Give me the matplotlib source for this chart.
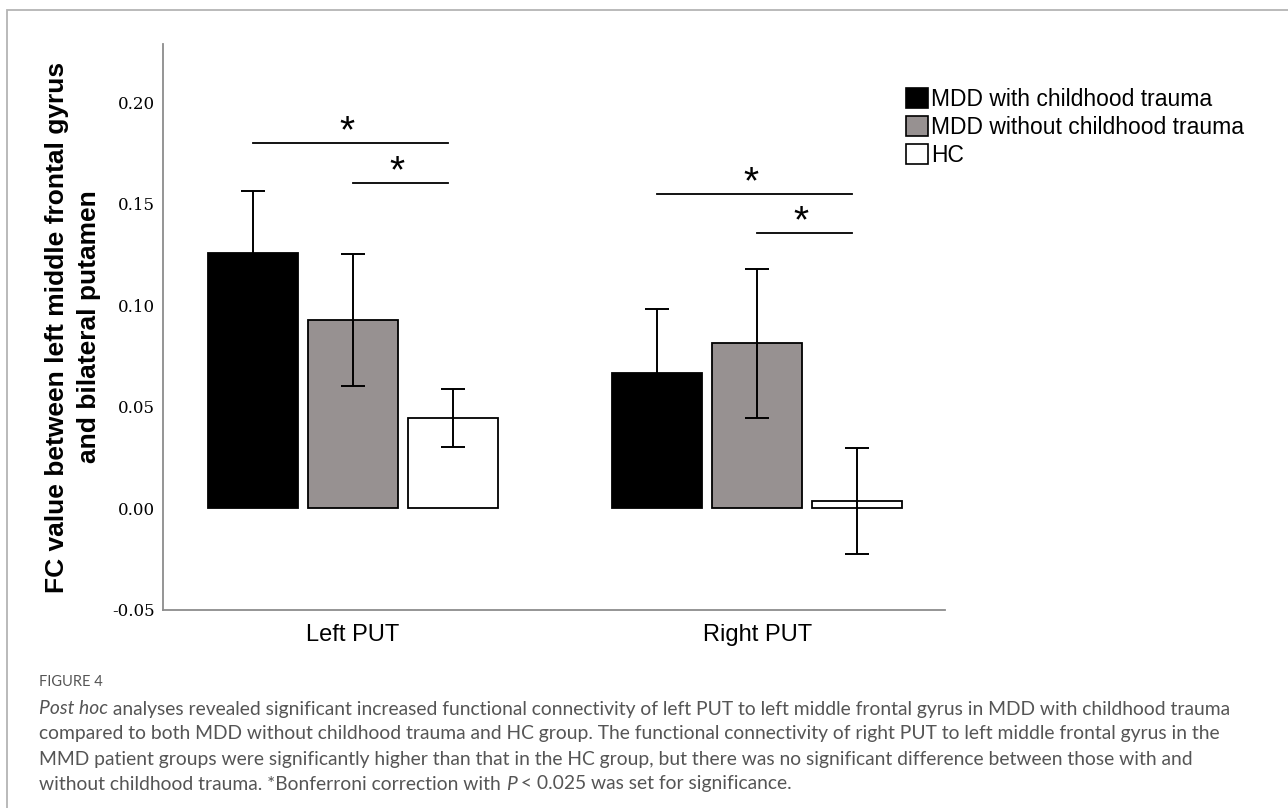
import numpy as np
import matplotlib
matplotlib.use("Agg")
import matplotlib.pyplot as plt
from matplotlib.patches import Patch, Rectangle

# data (group means and error half-widths)
groups = ["Left PUT", "Right PUT"]
series = ["MDD with childhood trauma", "MDD without childhood trauma", "HC"]
mean_with = [0.1255, 0.0667]
mean_without = [0.0926, 0.0811]
mean_hc = [0.0445, 0.0034]
err_with = [0.0307, 0.0315]
err_without = [0.0324, 0.0366]
err_hc = [0.0142, 0.0260]

# significance brackets: (group, from series, to series, height)
brackets = [
    (0, 0, 2, 0.1798),
    (0, 1, 2, 0.1600),
    (1, 0, 2, 0.1547),
    (1, 1, 2, 0.1355),
]

yticks = [-0.05, 0.00, 0.05, 0.10, 0.15, 0.20]

colors = ["#000000", "#979191", "#ffffff"]
means = [mean_with, mean_without, mean_hc]
errs = [err_with, err_without, err_hc]

W, H = 1288, 808
fig = plt.figure(figsize=(W / 100, H / 100), dpi=100)
ax = fig.add_axes([163 / W, 1 - 610 / H, (945 - 163) / W, (610 - 44) / H])

x = np.arange(len(groups))
step = 0.2475
width = 0.2228
for i in range(3):
    ax.bar(x + (i - 1) * step, means[i], width, color=colors[i],
           edgecolor="black", linewidth=1.3, zorder=2)
    ax.errorbar(x + (i - 1) * step, means[i], yerr=errs[i], fmt="none",
                ecolor="black", elinewidth=1.4, capsize=8.6, capthick=1.4,
                zorder=3)

for g, a, b, h in brackets:
    x0 = g + (a - 1) * step
    x1 = g + (b - 1) * step - 0.012
    ax.plot([x0, x1], [h, h], color="black", lw=1.3)
    ax.text((x0 + x1) / 2 - 0.008, h + 0.0005, "*", ha="center", va="baseline",
            fontsize=28, family="Liberation Sans")

ax.set_xlim(-0.470, 1.465)
ax.set_ylim(-0.0502, 0.2286)
ax.set_yticks(yticks)
ax.set_yticklabels(["%.2f" % t for t in yticks], family="DejaVu Serif",
                   fontsize=12)
ax.set_xticks(x)
ax.set_xticklabels(groups, family="Liberation Sans", fontsize=17)
ax.tick_params(axis="y", length=0, pad=6)
ax.tick_params(axis="x", length=0, pad=10)
for s in ["top", "right"]:
    ax.spines[s].set_visible(False)
for s in ["left", "bottom"]:
    ax.spines[s].set_color("#8c8c8c")
    ax.spines[s].set_linewidth(1.3)

fig.text(73 / W, 1 - 327 / H,
         "FC value between left middle frontal gyrus\nand bilateral putamen",
         rotation=90, ha="center", va="center", multialignment="center",
         fontsize=19, fontweight="bold", family="Liberation Sans",
         linespacing=1.4)

handles = [Patch(facecolor=c, edgecolor="black", linewidth=1.2) for c in colors]
fig.legend(handles, series, loc="upper left", bbox_to_anchor=(906 / W, 1 - 88 / H),
           frameon=False, prop={"family": "Liberation Sans", "size": 16.5},
           handlelength=0.95, handleheight=0.95, handletextpad=0.15,
           labelspacing=0.21, borderpad=0, borderaxespad=0)

# light frame around the figure panel
fig.patches.append(Rectangle((7 / W, -0.1), 1.2, 1 - 10 / H + 0.1,
                             transform=fig.transFigure, fill=False,
                             edgecolor="#b4b4b4", linewidth=1.3))

# caption
cap_kw = dict(fontsize=13.9, color="#555555", family="Lato", va="center")
fig.text(39 / W, 1 - 682 / H, "FIGURE 4", fontsize=10.5, color="#555555",
         family="Lato", va="center")

renderer = fig.canvas.get_renderer()


def write_line(parts, xpos, ypos):
    for txt, italic in parts:
        t = fig.text(xpos, ypos, txt, style="italic" if italic else "normal",
                     **cap_kw)
        bb = t.get_window_extent(renderer)
        xpos = bb.x1 / W


caption = [
    [("Post hoc", True), (" analyses revealed significant increased functional connectivity of left PUT to left middle frontal gyrus in MDD with childhood trauma", False)],
    [("compared to both MDD without childhood trauma and HC group. The functional connectivity of right PUT to left middle frontal gyrus in the", False)],
    [("MMD patient groups were significantly higher than that in the HC group, but there was no significant difference between those with and", False)],
    [("without childhood trauma. *Bonferroni correction with ", False), ("P", True), (" < 0.025 was set for significance.", False)],
]
for k, parts in enumerate(caption):
    write_line(parts, 39 / W, 1 - (709 + 25 * k) / H)

fig.savefig("out.png", dpi=100)
